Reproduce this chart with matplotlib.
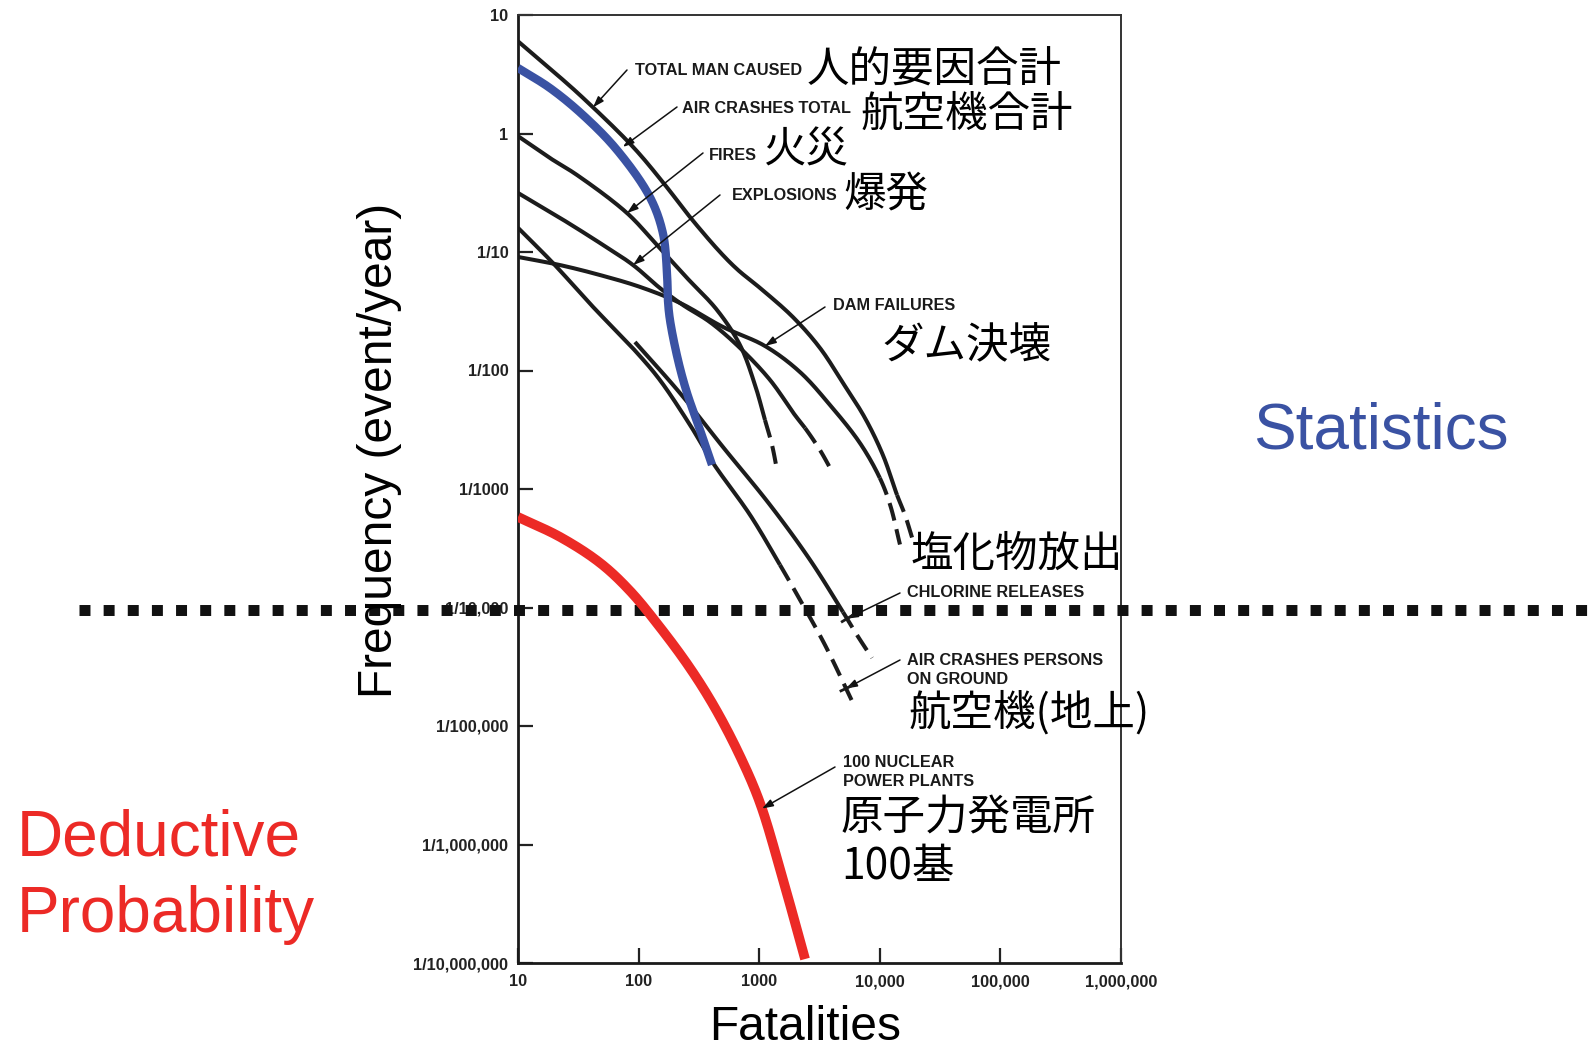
import numpy as np
import matplotlib
matplotlib.use("Agg")
import matplotlib.pyplot as plt
from matplotlib.lines import Line2D
from matplotlib.ticker import NullLocator
from matplotlib.transforms import blended_transform_factory, IdentityTransform

# ---------------- data ----------------
x_ticks = [10, 100, 1000, 10000, 100000, 1000000]
x_tick_labels = ["10", "100", "1000", "10,000", "100,000", "1,000,000"]
y_ticks = [10, 1, 1e-1, 1e-2, 1e-3, 1e-4, 1e-5, 1e-6, 1e-7]
y_tick_labels = ["10", "1", "1/10", "1/100", "1/1000", "1/10,000",
                 "1/100,000", "1/1,000,000", "1/10,000,000"]

total_x = [10, 20.3, 34.0, 90, 166, 267, 473, 667, 1016, 1906, 3190, 4950,
           7540, 10600, 13900, 16200, 18800]
total_y = [6.0, 3.24, 2.03, 0.77, 0.367, 0.197, 0.100, 0.0705, 0.0497, 0.0282,
           0.0155, 0.00785, 0.00397, 0.00194, 8.9e-4, 6.0e-4, 3.7e-4]
dam_x = [10, 22.3, 47.9, 103, 220, 501, 1117, 2180, 3860, 6850, 10000, 12200, 14700]
dam_y = [0.0908, 0.0776, 0.0639, 0.0507, 0.0372, 0.0233, 0.0161, 0.0097,
         0.00512, 0.00244, 0.00124, 7.3e-4, 3.4e-4]
fires_x = [10, 18.4, 30.8, 80.2, 142, 252, 447, 693, 923, 1117, 1277, 1405]
fires_y = [0.95, 0.621, 0.447, 0.213, 0.1145, 0.0604, 0.0324, 0.0164,
           0.00755, 0.00382, 0.00235, 0.00145]
expl_x = [10, 22.3, 47.9, 90, 150, 233, 391, 693, 1230, 1980, 2400, 3190, 4090]
expl_y = [0.315, 0.194, 0.119, 0.0776, 0.0497, 0.0357, 0.0256, 0.0155,
          0.00832, 0.0042, 0.00327, 0.00213, 0.00136]
ground_x = [10, 19.5, 41.9, 97, 150, 267, 414, 840, 1486, 2180, 3510, 6000]
ground_y = [0.16, 0.0807, 0.0344, 0.0141, 0.00832, 0.00347, 0.00166,
            6.04e-4, 2.29e-4, 1.16e-4, 4.83e-5, 1.56e-5]
chlor_x = [93.3, 220, 501, 1230, 2640, 4950, 6470, 8610]
chlor_y = [0.0174, 0.00646, 0.00226, 7.33e-4, 2.52e-4, 9.16e-5, 5.86e-5, 3.75e-5]
stat_x = [10, 18.4, 34.6, 66.2, 124, 159, 172, 175, 182, 212, 252, 323, 406]
stat_y = [3.57, 2.42, 1.43, 0.726, 0.291, 0.1445, 0.0665, 0.0394, 0.0267,
          0.0123, 0.00646, 0.00315, 0.0016]
nuclear_x = [10, 22.3, 47.9, 84.9, 150, 267, 430, 693, 1016, 1545, 2400]
nuclear_y = [5.8e-4, 3.94e-4, 2.38e-4, 1.38e-4, 6.84e-5, 3.08e-5, 1.42e-5,
             5.58e-6, 2.24e-6, 5.42e-7, 1.08e-7]
threshold = 9.5e-5
air_total_tip = (74, 0.77)   # hidden air-crash curve under the blue line

# ---------------- styling / layout ----------------
W, H = 1592, 1050
fig = plt.figure(figsize=(W / 100, H / 100), dpi=100)
fig.patch.set_facecolor("white")
ax = fig.add_axes([518 / W, 1 - 963 / H, (1121 - 518) / W, (963 - 15) / H])
ax.set_xscale("log")
ax.set_yscale("log")
ax.set_xlim(10, 1e6)
ax.set_ylim(1e-7, 10)
ax.xaxis.set_minor_locator(NullLocator())
ax.yaxis.set_minor_locator(NullLocator())
ax.set_xticks(x_ticks)
ax.set_xticklabels(x_tick_labels)
ax.set_yticks(y_ticks)
ax.set_yticklabels(y_tick_labels)
ax.tick_params(axis="both", direction="in", length=11, width=1.6, color="#222222",
               top=False, right=False)
ax.tick_params(axis="y", pad=7)
ax.tick_params(axis="x", pad=8)
for lab in ax.get_xticklabels() + ax.get_yticklabels():
    lab.set_fontfamily("Liberation Sans")
    lab.set_fontweight("bold")
    lab.set_fontsize(11.8)
    lab.set_color("#222222")
for side in ["left", "bottom"]:
    ax.spines[side].set_linewidth(2.0)
    ax.spines[side].set_color("#1a1a1a")
for side in ["top", "right"]:
    ax.spines[side].set_linewidth(1.4)
    ax.spines[side].set_color("#333333")

BLACK = "#1c1c1c"
BLUE = "#3a52a3"
RED = "#ec2a26"
LW = 2.9
DASH = (0, (4.5, 2.2))
NSUB = 24


def smooth(xs, ys, n=NSUB):
    """Centripetal Catmull-Rom path through the points, in log-log space."""
    P = np.column_stack([np.log10(xs), np.log10(ys)])
    P = np.vstack([2 * P[0] - P[1], P, 2 * P[-1] - P[-2]])
    out = []
    for i in range(1, len(P) - 2):
        p0, p1, p2, p3 = P[i - 1], P[i], P[i + 1], P[i + 2]
        t0 = 0.0
        t1 = t0 + np.linalg.norm(p1 - p0) ** 0.5
        t2 = t1 + np.linalg.norm(p2 - p1) ** 0.5
        t3 = t2 + np.linalg.norm(p3 - p2) ** 0.5
        t = np.linspace(t1, t2, n, endpoint=False)[:, None]
        a1 = (t1 - t) / (t1 - t0) * p0 + (t - t0) / (t1 - t0) * p1
        a2 = (t2 - t) / (t2 - t1) * p1 + (t - t1) / (t2 - t1) * p2
        a3 = (t3 - t) / (t3 - t2) * p2 + (t - t2) / (t3 - t2) * p3
        b1 = (t2 - t) / (t2 - t0) * a1 + (t - t0) / (t2 - t0) * a2
        b2 = (t3 - t) / (t3 - t1) * a2 + (t - t1) / (t3 - t1) * a3
        c = (t2 - t) / (t2 - t1) * b1 + (t - t1) / (t2 - t1) * b2
        out.append(c)
    out.append(P[-2][None, :])
    arr = np.vstack(out)
    return 10 ** arr[:, 0], 10 ** arr[:, 1]


# number of points (from the end) that belong to the dashed extension
dashed_tail = {"total": 3, "dam": 3, "fires": 3, "expl": 3, "ground": 4, "chlor": 3}
series = {
    "total": (total_x, total_y),
    "dam": (dam_x, dam_y),
    "fires": (fires_x, fires_y),
    "expl": (expl_x, expl_y),
    "ground": (ground_x, ground_y),
    "chlor": (chlor_x, chlor_y),
}
for name, (xs, ys) in series.items():
    sx, sy = smooth(xs, ys)
    k = (len(xs) - dashed_tail[name]) * NSUB
    ax.plot(sx[:k + 1], sy[:k + 1], color=BLACK, lw=LW,
            solid_joinstyle="round", solid_capstyle="butt", zorder=2)
    ax.plot(sx[k:], sy[k:], color=BLACK, lw=LW, ls=DASH,
            dash_capstyle="butt", zorder=2)

sx, sy = smooth(stat_x, stat_y)
ax.plot(sx, sy, color=BLUE, lw=6.0, solid_joinstyle="round",
        solid_capstyle="butt", zorder=3)
sx, sy = smooth(nuclear_x, nuclear_y)
ax.plot(sx, sy, color=RED, lw=7.0, solid_joinstyle="round",
        solid_capstyle="butt", zorder=3.2)

# threshold dotted line across the whole slide
tr = blended_transform_factory(fig.transFigure, ax.transData)
ax.plot([79 / W, 1.0], [threshold, threshold], transform=tr, clip_on=False,
        color="#111111", lw=7.9, ls=(0, (1, 1.2)), dash_capstyle="butt", zorder=2.6)


def on_curve(xs, ys, xq):
    sx, sy = smooth(xs, ys)
    return (xq, 10 ** np.interp(np.log10(xq), np.log10(sx), np.log10(sy)))


arrow_kw = dict(arrowstyle="-|>,head_length=0.65,head_width=0.22", lw=1.1,
                color="#111111", shrinkA=0, shrinkB=0)


def arrow(tip, tail_px):
    ax.annotate("", xy=tip, xycoords="data",
                xytext=(tail_px[0], H - tail_px[1]), textcoords="figure pixels",
                arrowprops=arrow_kw, annotation_clip=False, zorder=4)


def tbar(xs, ys, xq, half=7):
    """Short bar across a curve, marking where the arrow points."""
    sx, sy = smooth(xs, ys)
    pts = ax.transData.transform(np.column_stack([sx, sy]))
    i = int(np.argmin(np.abs(np.log10(sx) - np.log10(xq))))
    i = min(max(i, 1), len(pts) - 2)
    d = pts[i + 1] - pts[i - 1]
    d = d / np.hypot(*d)
    nrm = np.array([-d[1], d[0]])
    c = ax.transData.transform(on_curve(xs, ys, xq))
    seg = np.array([c - nrm * half, c + nrm * half])
    fig.add_artist(Line2D(seg[:, 0], seg[:, 1], transform=IdentityTransform(),
                          color=BLACK, lw=2.0, solid_capstyle="butt", zorder=4))


arrow(on_curve(total_x, total_y, 41.9), (627, 70))
arrow(air_total_tip, (677, 107))
arrow(on_curve(fires_x, fires_y, 80.2), (703, 153))
arrow(on_curve(expl_x, expl_y, 90), (720, 195))
arrow(on_curve(dam_x, dam_y, 1117), (825, 307))
arrow(on_curve(chlor_x, chlor_y, 5350), (900, 593))
arrow(on_curve(ground_x, ground_y, 5250), (900, 660))
arrow(on_curve(nuclear_x, nuclear_y, 1055), (835, 767))
tbar(chlor_x, chlor_y, 5350)
tbar(ground_x, ground_y, 5250)


def ftext(x, y, s, **kw):
    return fig.text(x / W, 1 - y / H, s, **kw)


small = dict(family="Liberation Sans", weight="bold", fontsize=11.7,
             color="#1a1a1a", ha="left", va="baseline")
ftext(635, 75, "TOTAL MAN CAUSED", **small)
ftext(682, 113, "AIR CRASHES TOTAL", **small)
ftext(709, 160, "FIRES", **small)
ftext(732, 200, "EXPLOSIONS", **small)
ftext(833, 310, "DAM FAILURES", **small)
ftext(907, 597, "CHLORINE RELEASES", **small)
ftext(907, 665, "AIR CRASHES PERSONS", **small)
ftext(907, 684, "ON GROUND", **small)
ftext(843, 767, "100 NUCLEAR", **small)
ftext(843, 786, "POWER PLANTS", **small)

jp = dict(family=["Noto Sans CJK JP", "DejaVu Sans"], fontsize=30.6, color="black",
          ha="left", va="baseline")
ftext(807, 83, "人的要因合計", **jp)
ftext(861, 127, "航空機合計", **jp)
ftext(764, 162, "火災", **jp)
ftext(843, 207, "爆発", **jp)
ftext(881, 357, "ダム決壊", **jp)
ftext(911, 567, "塩化物放出", **jp)
ftext(909, 726, "航空機(地上)", **jp)
ftext(841, 830, "原子力発電所", **jp)
ftext(841, 879, "100基", **jp)

big = dict(family="Liberation Sans", fontsize=34.5, color="black")
ftext(379, 450, "Frequency (event/year)", rotation=90, ha="center", va="center", **big)
ftext(805, 1040, "Fatalities", ha="center", va="baseline", **big)

ftext(1253, 448, "Statistics", family="Liberation Sans", fontsize=46, color=BLUE,
      ha="left", va="baseline")
ftext(17, 855, "Deductive", family="Liberation Sans", fontsize=46, color=RED,
      ha="left", va="baseline")
ftext(17, 932, "Probability", family="Liberation Sans", fontsize=46, color=RED,
      ha="left", va="baseline")

fig.savefig("out.png", dpi=100, facecolor="white")
